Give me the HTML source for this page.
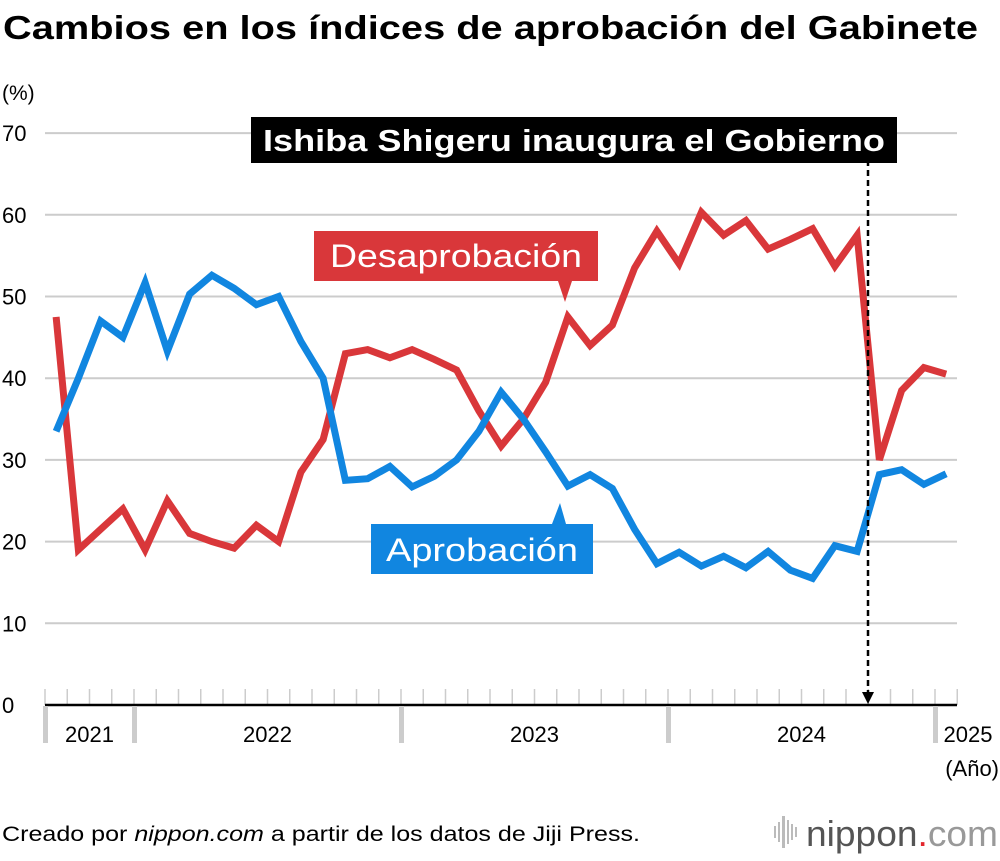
<!DOCTYPE html>
<html><head><meta charset="utf-8"><style>
body{margin:0;background:#fff;font-family:"Liberation Sans",sans-serif;}
svg text{font-family:"Liberation Sans",sans-serif;}
</style></head><body>
<svg width="1000" height="856" viewBox="0 0 1000 856">
<text x="3" y="39" font-size="33" font-weight="bold" fill="#000" textLength="975" lengthAdjust="spacingAndGlyphs">Cambios en los índices de aprobación del Gabinete</text>
<text x="2" y="100" font-size="21" fill="#000">(%)</text>
<g id="grid"></g>
<g id="axis"></g>
<g id="series"></g>
<g id="labels"></g>
<text x="2" y="841" font-size="21" fill="#000" textLength="638" lengthAdjust="spacingAndGlyphs">Creado por <tspan font-style="italic">nippon.com</tspan> a partir de los datos de Jiji Press.</text>
<g>
<g fill="#bbb"><rect x="774" y="826" width="2" height="12"/><rect x="778" y="822" width="2" height="20"/><rect x="782" y="816" width="3" height="32"/><rect x="787" y="820" width="2" height="24"/><rect x="791" y="824" width="2" height="16"/><rect x="795" y="827" width="2" height="10"/></g>
<text x="806" y="846" font-size="36" fill="#555" textLength="192" lengthAdjust="spacingAndGlyphs">nippon<tspan fill="#e3262d">.</tspan><tspan fill="#999">com</tspan></text>
</g>
</svg>
<script>
const years=["2021","2022","2023","2024","2025"];
const yTicks=[0,10,20,30,40,50,60,70];
const disapproval=[47.5,19,21.5,24,19,25,21,20,19.2,22,20,28.5,32.5,43,43.5,42.5,43.5,42.3,41,36,31.7,35,39.5,47.5,44,46.5,53.5,58,54,60.3,57.5,59.3,55.8,57,58.3,53.7,57.5,30,38.5,41.3,40.5];
const approval=[33.5,40,47,45,51.7,43.3,50.3,52.6,51,49,50,44.5,40,27.5,27.7,29.2,26.7,28,30,33.5,38.3,35,31,26.8,28.2,26.5,21.5,17.3,18.7,17,18.2,16.8,18.8,16.5,15.5,19.5,18.8,28.2,28.8,27,28.3];
const NS="http://www.w3.org/2000/svg";
const x0=45,mw=22.25,y0=705,ppu=8.17;
const sx=i=>x0+mw/2+i*mw;
const sy=v=>y0-v*ppu;
function mk(tag,attrs,parent){const e=document.createElementNS(NS,tag);for(const k in attrs)e.setAttribute(k,attrs[k]);document.getElementById(parent).appendChild(e);return e;}
yTicks.forEach(t=>{
 if(t>0){const l=mk('line',{x1:45,x2:957,y1:sy(t),y2:sy(t),stroke:'#ccc','stroke-width':2},'grid');
 
 }
 const tx=mk('text',{x:2,y:sy(t)+8,'font-size':22,fill:'#000'},'grid');tx.textContent=t;
 
 
});
const nMonths=disapproval.length;
for(let k=0;k<=nMonths;k++){const l=mk('line',{x1:x0+k*mw,x2:x0+k*mw,y1:689,y2:705,stroke:'#ccc','stroke-width':1.5},'axis');
 
 }
const axl=mk('line',{x1:45,x2:957,y1:705,y2:705,stroke:'#000','stroke-width':2.5},'axis');


const yearStart=[0,4,16,28,40];
years.forEach((y,i)=>{
 const xs=x0+yearStart[i]*mw;
 const b=mk('rect',{x:xs-2,y:706,width:5,height:37,fill:'#ccc'},'axis');
 
 
 const xe=i<years.length-1?x0+yearStart[i+1]*mw:1000;
 const cx=i<years.length-1?(xs+xe)/2:968;
 const t=mk('text',{x:cx,y:742,'font-size':22,'text-anchor':'middle',fill:'#000'},'axis');t.textContent=y;
 
 
});
const au=mk('text',{x:999,y:776,'font-size':22,'text-anchor':'end',fill:'#000'},'axis');au.textContent='(Año)';


function line(vals,col,name){const p=mk('polyline',{points:vals.map((v,i)=>sx(i)+','+sy(v)).join(' '),fill:'none',stroke:col,'stroke-width':7,'stroke-linejoin':'miter','stroke-miterlimit':3},'series');
 
 }
line(disapproval,'#d9373a','disapproval-line');
line(approval,'#1186e0','approval-line');
const ax=868;
const dl=mk('line',{x1:ax,x2:ax,y1:160,y2:695,stroke:'#000','stroke-width':2.5,'stroke-dasharray':'6,4'},'labels');


const ah=mk('polygon',{points:`${ax-6},692 ${ax+6},692 ${ax},704`,fill:'#000'},'labels');


const ib=mk('rect',{x:251,y:117,width:646,height:46,fill:'#000'},'labels');


const it=mk('text',{x:263,y:151,'font-size':31,'font-weight':'bold',fill:'#fff',textLength:622,lengthAdjust:'spacingAndGlyphs'},'labels');it.textContent='Ishiba Shigeru inaugura el Gobierno';


const db=mk('path',{d:'M314 231 H598 V281 H572 L565 302 L558 281 H314 Z',fill:'#d9373a'},'labels');


const dt=mk('text',{x:330,y:267,'font-size':32,fill:'#fff',textLength:252,lengthAdjust:'spacingAndGlyphs'},'labels');dt.textContent='Desaprobación';


const abx=mk('path',{d:'M371 524 H552 L560 503 L566 524 H593 V574 H371 Z',fill:'#1186e0'},'labels');


const at=mk('text',{x:386,y:561,'font-size':32,fill:'#fff',textLength:192,lengthAdjust:'spacingAndGlyphs'},'labels');at.textContent='Aprobación';


</script>
</body></html>
